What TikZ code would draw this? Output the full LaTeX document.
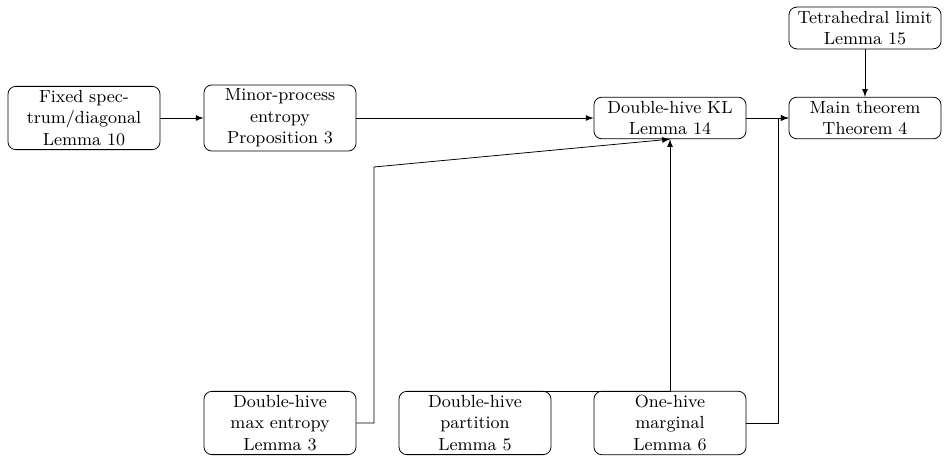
\documentclass[tikz,border=0pt]{standalone}
\usetikzlibrary{arrows}
\begin{document}
\begin{tikzpicture}[
x=0.513pt,y=-0.513pt,
box/.style={
  draw,
  rounded corners=4pt,
  font=\small,
  text width=74pt,
  minimum width=78pt,
  minimum height=21pt,
  inner sep=2pt,
  align=center
}
]
\useasboundingbox (0,0) rectangle (950,462);
\node[box] (fixed) at (84,118)
  {Fixed spectrum/diagonal\\ Lemma 10};
\node[box] (minor) at (280,118)
  {Minor-process entropy\\ Proposition 3};
\node[box] (kl) at (670,118)
  {Double-hive KL\\ Lemma 14};
\node[box] (main) at (865,118)
  {Main theorem\\ Theorem 4};
\node[box] (tetra) at (865,28)
  {Tetrahedral limit\\ Lemma 15};
\node[box] (maxent) at (280,423)
  {Double-hive max entropy\\ Lemma 3};
\node[box] (part) at (475,423)
  {Double-hive partition\\ Lemma 5};
\node[box] (one) at (670,423)
  {One-hive marginal\\ Lemma 6};

\draw[-latex] (fixed) -- (minor);
\draw[-latex] (minor) -- (kl);
\draw[-latex] (kl) -- (main);
\draw[-latex] (tetra) -- (main);
\draw[-latex] (maxent.east) -- (374,423) -- (374,167) -- (kl.south);
\draw[-latex] (part.north) -| (kl.south);
\draw[-latex] (one.east) -- (778,423) -- (778,118) -- (main.west);
\end{tikzpicture}
\end{document}
